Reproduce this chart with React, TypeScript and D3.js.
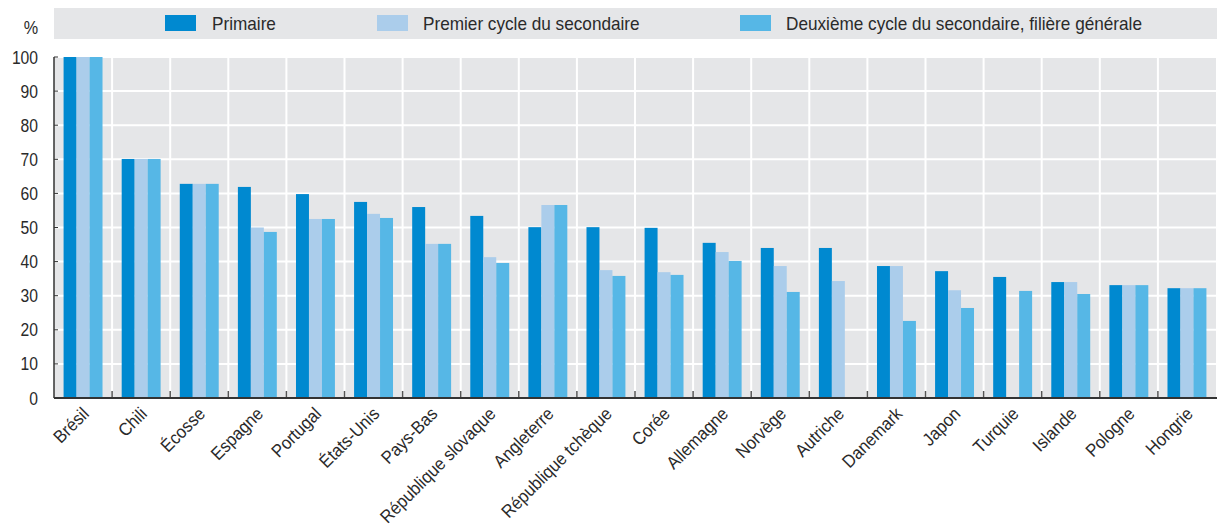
import React from "react";
import * as d3 from "d3";

const categories = [
  "Brésil", "Chili", "Écosse", "Espagne", "Portugal", "États-Unis", "Pays-Bas",
  "République slovaque", "Angleterre", "République tchèque", "Corée", "Allemagne",
  "Norvège", "Autriche", "Danemark", "Japon", "Turquie", "Islande", "Pologne", "Hongrie",
];
const seriesNames = [
  "Primaire",
  "Premier cycle du secondaire",
  "Deuxième cycle du secondaire, filière générale",
];
const primaire = [100, 70.1, 62.8, 61.9, 59.8, 57.5, 56.0, 53.4, 50.1, 50.1, 49.9, 45.5, 44.0, 44.0, 38.7, 37.2, 35.5, 34.0, 33.1, 32.2];
const premierCycle: (number | null)[] = [100, 70.1, 62.8, 50.0, 52.5, 54.0, 45.2, 41.3, 56.6, 37.5, 36.9, 42.8, 38.7, 34.3, 38.7, 31.6, null, 34.0, 33.1, 32.2];
const deuxiemeCycle: (number | null)[] = [100, 70.1, 62.8, 48.7, 52.5, 52.8, 45.2, 39.6, 56.6, 35.8, 36.1, 40.2, 31.1, null, 22.6, 26.4, 31.4, 30.5, 33.1, 32.2];
const yTicks = [0, 10, 20, 30, 40, 50, 60, 70, 80, 90, 100];
const colors = ["#0089d0", "#abcdeb", "#56b7e6"];

const W = 1217, H = 528;
const left = 54, right = 1216, top = 57, bottom = 398;
const FONT = "'Liberation Sans Narrow', 'Liberation Sans', Arial, sans-serif";

export default function App() {
  const x = d3.scaleBand<string>().domain(categories).range([left, right]).paddingInner(0).paddingOuter(0);
  const bw = x.bandwidth();
  const groupW = bw * 0.67;
  const xs = d3.scaleBand<number>().domain([0, 1, 2]).range([(bw - groupW) / 2, (bw + groupW) / 2]);
  const y = d3.scaleLinear().domain([0, 100]).range([bottom, top]);
  const series = [primaire, premierCycle, deuxiemeCycle];

  const legendItems = [
    { x: 165, tx: 212 },
    { x: 377, tx: 423 },
    { x: 740, tx: 786 },
  ];

  return (
    <svg width={W} height={H} style={{ position: "absolute", left: 0, top: 0 }} fontFamily={FONT}>
      <rect x={0} y={0} width={W} height={H} fill="#fff" />
      {/* legend */}
      <rect x={54} y={8} width={W - 54} height={31} fill="#e5e6e8" />
      {legendItems.map((l, i) => (
        <g key={i}>
          <rect x={l.x} y={15} width={31} height={16} fill={colors[i]} />
          <text transform={`translate(${l.tx},30) scale(0.955,1)`} fontSize={18} fill="#2a2a2a">{seriesNames[i]}</text>
        </g>
      ))}
      <text transform="translate(31,34) scale(0.9,1)" fontSize={18} fill="#2a2a2a" textAnchor="middle">%</text>

      {/* plot background */}
      <rect x={left} y={top} width={right - left} height={bottom - top} fill="#e5e6e8" />
      {yTicks.map((t) => (
        <line key={t} x1={left} x2={right} y1={y(t)} y2={y(t)} stroke="#fff" strokeWidth={2} />
      ))}
      {categories.map((c, i) => i > 0 && (
        <line key={c} x1={x(c)!} x2={x(c)!} y1={top} y2={bottom} stroke="#fff" strokeWidth={2} />
      ))}

      {/* bars */}
      {series.map((s, si) => (
        <g key={si}>
          {categories.map((c, i) => {
            const v = s[i];
            if (v == null) return null;
            return (
              <rect key={c} x={x(c)! + xs(si)!} y={y(v)} width={xs.bandwidth()} height={bottom - y(v)} fill={colors[si]} />
            );
          })}
        </g>
      ))}

      {/* axes */}
      <line x1={left} x2={left} y1={top} y2={bottom} stroke="#333" strokeWidth={1.5} />
      {yTicks.map((t) => (
        <g key={t}>
          <line x1={left} x2={left + 4} y1={y(t)} y2={y(t)} stroke="#333" strokeWidth={1} />
          <text transform={`translate(38,${y(t) + 6.5}) scale(0.87,1)`} fontSize={18} fill="#2a2a2a" textAnchor="end">{t}</text>
        </g>
      ))}
      {categories.map((c, i) => i > 0 && (
        <line key={"t" + c} x1={x(c)!} x2={x(c)!} y1={bottom - 7} y2={bottom} stroke="#555" strokeWidth={1.5} />
      ))}
      <line x1={left} x2={right + 1} y1={bottom} y2={bottom} stroke="#333" strokeWidth={2} />

      {/* x labels */}
      {categories.map((c) => {
        const cx = x(c)! + bw / 2;
        return (
          <text key={"l" + c} transform={`translate(${cx + 7},${415}) rotate(-45) scale(0.92,1)`} fontSize={18} fill="#2a2a2a" textAnchor="end">
            {c}
          </text>
        );
      })}
    </svg>
  );
}
